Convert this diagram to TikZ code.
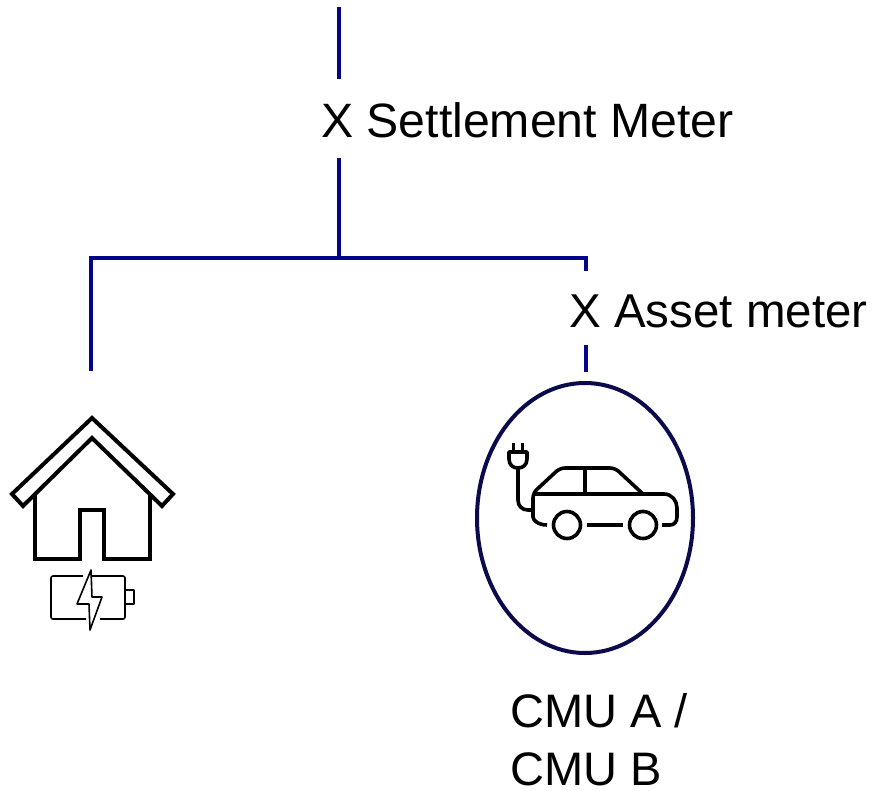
\documentclass[tikz,border=0pt]{standalone}
\usepackage{fontspec}
\setmainfont{Liberation Sans}
\usetikzlibrary{positioning}
\usetikzlibrary{shapes.geometric}
\definecolor{wireblue}{HTML}{05058C}
\definecolor{ringblue}{HTML}{0B0B4B}
\tikzset{
  wire/.style={draw=wireblue,line width=4pt},
  icon/.style={draw=black,line width=3.6pt,line join=miter},
  houseicon/.style={draw=black,line width=4pt,line join=miter},
  thinicon/.style={draw=black,line width=1.6pt,line join=round},
  label/.style={font=\fontsize{47.5}{58}\selectfont,inner sep=0pt,text=black},
}

\begin{document}
\begin{tikzpicture}[x=1pt,y=-1pt]
  \useasboundingbox (0,0) rectangle (873,790);

  % Ends of the wires
  \coordinate (T) at (339,7);
  \coordinate (S1) at (339,79);
  \coordinate (S2) at (339,158);
  \coordinate (J) at (339,258);
  \coordinate (L) at (91,258);
  \coordinate (H) at (91,371);
  \coordinate (R) at (586,258);
  \coordinate (A1) at (586,271);
  \coordinate (A2) at (586,345);
  \coordinate (E) at (586,372);

  % Labels
  \node[label,font=\fontsize{48.2}{58}\selectfont,anchor=base west] (settle) at (321,137) {X Settlement Meter};
  \node[label,anchor=base west] (asset) at (569,327) {X Asset meter};
  \node[label,font=\fontsize{47}{58}\selectfont,anchor=base west,align=left] (cmu) at (510,785.5) {CMU A /\\CMU B};

  % Wires
  \draw[wire] (T) -- (S1);
  \draw[wire] (S2) -- (J);
  \draw[wire] (H) -- (L) -- (R) -- (A1);
  \draw[wire] (A2) -- (E);

  % Charge point ring
  \node[ellipse,draw=ringblue,line width=4pt,minimum width=216pt,minimum height=270pt,inner sep=0pt] (ring) at (585,518) {};

  % House
  \draw[houseicon] (92,418) -- (173,494) -- (162,506) -- (92,438) -- (23,506) -- (12,494) -- cycle;
  \draw[houseicon] (35,495) -- (35,559) -- (80,559) -- (80,510) -- (104,510) -- (104,559) -- (150,559) -- (150,495);

  % Battery
  \draw[thinicon,rounded corners=2pt] (83,576) -- (51,576) -- (51,619) -- (86,619);
  \draw[thinicon,rounded corners=2pt] (92,576) -- (125,576) -- (125,619) -- (100,619);
  \draw[thinicon] (125,590) -- (134,590) -- (134,604) -- (125,604);
  \draw[thinicon] (91,570) -- (77,604) -- (89,604) -- (90,630) -- (102,597) -- (92,597) -- cycle;

  % Plug and cable
  \draw[icon] (513.5,443) -- (513.5,452);
  \draw[icon] (522.5,443) -- (522.5,452);
  \draw[icon,line join=round] (509,452) -- (527,452) -- (527,459) .. controls (527,465) and (523,468) .. (518,468) .. controls (513,468) and (509,465) .. (509,459) -- cycle;
  \draw[icon] (518,468) -- (518,500) .. controls (518,506) and (522,510) .. (528,510) -- (533,510);

  % Car
  \draw[icon,line join=round,rounded corners=5pt] (547,525) .. controls (538,525) and (533,520) .. (533,512) -- (533,493) -- (560,468) -- (615,468) -- (643,494);
  \draw[icon] (533,494) -- (664,494) .. controls (672,494) and (677,501) .. (677,508) -- (677,517) .. controls (677,522) and (674,525) .. (670,525) -- (662,525);
  \draw[icon] (585,468) -- (585,494);
  \draw[icon] (587,525) -- (623,525);
  \node[circle,icon,minimum size=27pt,inner sep=0pt] (wheelA) at (567,525) {};
  \node[circle,icon,minimum size=27pt,inner sep=0pt] (wheelB) at (643,525) {};
\end{tikzpicture}
\end{document}
